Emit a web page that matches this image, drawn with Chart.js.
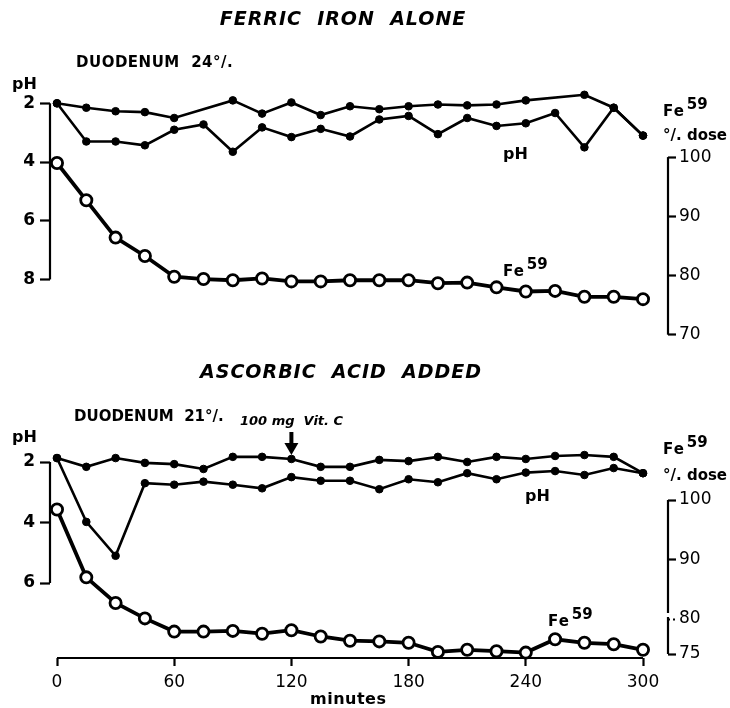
<!DOCTYPE html>
<html>
<head>
<meta charset="utf-8">
<script src="https://cdn.jsdelivr.net/npm/chart.js@4/dist/chart.umd.min.js"></script>
<style>
  html, body { margin: 0; padding: 0; background: #fff; }
  #wrap { position: relative; width: 730px; height: 708px; }
  #ferric { position: absolute; left: 0; top: 0; }
  #ascorbic { position: absolute; left: 0; top: 350px; }
</style>
</head>
<body>
<div id="wrap">
  <canvas id="ferric" width="730" height="350"></canvas>
  <canvas id="ascorbic" width="730" height="358"></canvas>
</div>
<script>
// Sampling times (minutes)
const minutes = [0, 15, 30, 45, 60, 75, 90, 105, 120, 135, 150, 165, 180, 195, 210, 225, 240, 255, 270, 285, 300];

// Ferric iron alone: duodenal pH (two recordings) and Fe59 remaining (% dose)
const ferricPhUpper = [2.0, 2.15, 2.27, 2.3, 2.5, null, 1.9, 2.35, 1.97, 2.4, 2.1, 2.2, 2.1, 2.04, 2.07, 2.04, 1.9, null, 1.71, 2.15, 3.1];
const ferricPhLower = [2.0, 3.3, 3.3, 3.43, 2.9, 2.72, 3.65, 2.82, 3.15, 2.87, 3.13, 2.55, 2.43, 3.05, 2.5, 2.77, 2.68, 2.33, 3.5, 2.15, 3.1];
const ferricFe59 = [99.0, 92.7, 86.4, 83.3, 79.8, 79.4, 79.2, 79.5, 79.0, 79.0, 79.2, 79.2, 79.2, 78.7, 78.8, 78.0, 77.3, 77.4, 76.4, 76.4, 76.0];

// Ascorbic acid added
const ascorbicPhUpper = [1.87, 2.16, 1.87, 2.03, 2.07, 2.23, 1.83, 1.83, 1.9, 2.16, 2.16, 1.93, 1.97, 1.83, 2.0, 1.83, 1.9, 1.8, 1.77, 1.83, 2.37];
const ascorbicPhLower = [1.87, 3.98, 5.1, 2.7, 2.75, 2.65, 2.75, 2.87, 2.5, 2.62, 2.62, 2.9, 2.57, 2.67, 2.37, 2.57, 2.35, 2.3, 2.43, 2.2, 2.37];
const ascorbicFe59 = [98.4, 87.0, 82.7, 80.1, 78.2, 78.2, 78.3, 77.9, 78.4, 77.5, 76.9, 76.8, 76.6, 75.3, 75.6, 75.4, 75.2, 77.1, 76.6, 76.4, 75.6];

// Tick labels
const minuteTicks = [0, 60, 120, 180, 240, 300];
const ferricPhTicks = [2, 4, 6, 8];
const ferricDoseTicks = [100, 90, 80, 70];
const ascorbicPhTicks = [2, 4, 6];
const ascorbicDoseTicks = [100, 90, 80, 75];
const vitCTime = 120;

const FONT = '"DejaVu Sans", "Liberation Sans", sans-serif';

// Linear scale whose lower part (below breakAt) is stretched, for a broken axis
class BrokenLinearScale extends Chart.LinearScale {
  static id = 'brokenLinear';
  static defaults = Chart.LinearScale.defaults;
  virt(v) {
    const b = this.options.breakAt, k = this.options.belowStretch;
    return (v != null && v < b) ? b - (b - v) * k : v;
  }
  getPixelForValue(v) { return super.getPixelForValue(this.virt(v)); }
}
Chart.register(BrokenLinearScale);

// Range of a scale so that two values land on two given pixel rows
function span(v1, p1, v2, p2, top, bottom) {
  const ppu = (p2 - p1) / (v2 - v1);
  const a = v1 + (top - p1) / ppu, b = v1 + (bottom - p1) / ppu;
  return { min: Math.min(a, b), max: Math.max(a, b) };
}

const pts = arr => minutes.map((m, i) => ({ x: m, y: arr[i] }));

function phSet(arr, gaps) {
  return {
    data: pts(arr), yAxisID: 'ph', borderColor: '#000', borderWidth: 2.6,
    pointRadius: 3.8, pointBackgroundColor: '#000', pointBorderColor: '#000',
    pointBorderWidth: 1, spanGaps: gaps, clip: false, tension: 0
  };
}
function feSet(arr) {
  return {
    data: pts(arr), yAxisID: 'fe', borderColor: '#000', borderWidth: 3.8,
    pointRadius: 5.6, pointBackgroundColor: '#fff', pointBorderColor: '#000',
    pointBorderWidth: 2.8, clip: false, tension: 0
  };
}

function txt(ctx, s, x, y, font, align, spacing) {
  ctx.save();
  ctx.font = font; ctx.textAlign = align || 'left'; ctx.textBaseline = 'middle';
  ctx.letterSpacing = spacing || '0px';
  ctx.fillStyle = '#000'; ctx.fillText(s, x, y);
  const w = ctx.measureText(s).width;
  ctx.restore();
  return w;
}
function feLabel(ctx, x, y) {
  const w = txt(ctx, 'Fe', x, y, 'bold 15px ' + FONT, 'left', '1px');
  txt(ctx, '59', x + w + 2, y - 7, 'bold 15px ' + FONT);
}

// Axis brackets: a line running only between the first and last tick
function bracket(ctx, chart, id, side, gapAt) {
  const s = chart.scales[id], ca = chart.chartArea;
  const ys = s.ticks.map(t => s.getPixelForValue(t.value));
  const x = side === 'left' ? ca.left : ca.right;
  const top = Math.min(...ys), bot = Math.max(...ys);
  ctx.save(); ctx.strokeStyle = '#000'; ctx.lineWidth = 2.2; ctx.beginPath();
  if (gapAt != null) {
    const g = s.getPixelForValue(gapAt);
    ctx.moveTo(x, top); ctx.lineTo(x, g - 6);
    ctx.moveTo(x, g - 2); ctx.lineTo(x, bot);
  } else {
    ctx.moveTo(x, top); ctx.lineTo(x, bot);
  }
  ctx.stroke(); ctx.restore();
}
function xBracket(ctx, chart) {
  const s = chart.scales.x, y = chart.chartArea.bottom;
  ctx.save(); ctx.strokeStyle = '#000'; ctx.lineWidth = 2.2; ctx.beginPath();
  ctx.moveTo(s.getPixelForValue(minuteTicks[0]), y);
  ctx.lineTo(s.getPixelForValue(minuteTicks[minuteTicks.length - 1]), y);
  ctx.stroke(); ctx.restore();
}

const tickFontBold = { family: FONT, size: 17, weight: 'bold' };
const tickFont = { family: FONT, size: 17, weight: 'normal' };

function yScales(phRange, phTicks, feRange, feTicks, feType, feGridExtra) {
  return {
    ph: {
      type: 'linear', position: 'left', reverse: true, min: phRange.min, max: phRange.max,
      afterBuildTicks: s => { s.ticks = phTicks.map(v => ({ value: v })); },
      afterFit: s => { s.width = 50; s.paddingTop = 0; s.paddingBottom = 0; },
      border: { display: false },
      grid: { drawOnChartArea: false, drawTicks: true, tickLength: 10, tickColor: '#000', tickWidth: 2.2 },
      ticks: { color: '#000', font: tickFontBold, padding: 5, autoSkip: false }
    },
    fe: Object.assign({
      type: feType || 'linear', position: 'right', min: feRange.min, max: feRange.max,
      afterBuildTicks: s => { s.ticks = feTicks.map(v => ({ value: v })); },
      afterFit: s => { s.width = 62; s.paddingTop = 0; s.paddingBottom = 0; },
      border: { display: false },
      grid: Object.assign({ drawOnChartArea: false, drawTicks: true, tickLength: 8, tickColor: '#000', tickWidth: 2.2 }, feGridExtra || {}),
      ticks: { color: '#000', font: tickFont, padding: 3, autoSkip: false }
    })
  };
}

const xRange = span(0, 57, 300, 643, 50, 668);
function xScale(show) {
  return {
    type: 'linear', min: xRange.min, max: xRange.max, display: show,
    afterBuildTicks: s => { s.ticks = minuteTicks.map(v => ({ value: v })); },
    afterFit: s => { if (show) { s.height = 50; } s.paddingLeft = 0; s.paddingRight = 0; },
    border: { display: false },
    grid: { drawOnChartArea: false, drawTicks: true, tickLength: 8, tickColor: '#000', tickWidth: 2.2 },
    ticks: { color: '#000', font: { family: FONT, size: 17, weight: 'normal' }, padding: 6, autoSkip: false, maxRotation: 0 }
  };
}

const common = {
  responsive: false, animation: false, devicePixelRatio: 1, events: [],
  plugins: { legend: { display: false }, tooltip: { enabled: false } }
};

// ---- Ferric iron alone (chart area rows 90..345)
new Chart(document.getElementById('ferric'), {
  type: 'line',
  data: { datasets: [phSet(ferricPhUpper, true), phSet(ferricPhLower, false), feSet(ferricFe59)] },
  options: Object.assign({}, common, {
    layout: { padding: { top: 90, bottom: 5, left: 0, right: 0 } },
    scales: Object.assign({ x: xScale(false) },
      yScales(span(2, 103.5, 8, 282, 90, 345), ferricPhTicks, span(100, 158, 70, 338, 90, 345), ferricDoseTicks))
  }),
  plugins: [{
    id: 'ferricArt',
    afterDraw(chart) {
      const ctx = chart.ctx;
      bracket(ctx, chart, 'ph', 'left');
      bracket(ctx, chart, 'fe', 'right');
      txt(ctx, 'FERRIC  IRON  ALONE', 343, 20, 'italic bold 19px ' + FONT, 'center', '1px');
      txt(ctx, 'DUODENUM  24°/.', 76, 63, 'bold 15px ' + FONT, 'left', '0.5px');
      txt(ctx, 'pH', 12, 85, 'bold 16px ' + FONT);
      feLabel(ctx, 663, 112);
      txt(ctx, '°/. dose', 663, 136, 'bold 15px ' + FONT);
      txt(ctx, 'pH', 503, 155, 'bold 16px ' + FONT);
      feLabel(ctx, 503, 272);
    }
  }]
});

// ---- Ascorbic acid added (chart area rows 80..308 of this canvas)
new Chart(document.getElementById('ascorbic'), {
  type: 'line',
  data: { datasets: [phSet(ascorbicPhUpper, true), phSet(ascorbicPhLower, false), feSet(ascorbicFe59)] },
  options: Object.assign({}, common, {
    layout: { padding: { top: 80, bottom: 0, left: 0, right: 0 } },
    scales: Object.assign({ x: xScale(true) },
      yScales(span(2, 112, 6, 233, 80, 308), ascorbicPhTicks,
        span(100, 150, 80, 269, 80, 308), ascorbicDoseTicks, 'brokenLinear',
        { tickBorderDash: c => (c.tick && c.tick.value === 80) ? [2, 3] : [] }))
  }),
  plugins: [{
    id: 'ascorbicArt',
    beforeInit(chart) {
      // 75..80 band of the dose axis is drawn stretched
      chart.options.scales.fe.breakAt = 80;
      chart.options.scales.fe.belowStretch = 7 / 5.95;
    },
    afterDraw(chart) {
      const ctx = chart.ctx;
      bracket(ctx, chart, 'ph', 'left');
      bracket(ctx, chart, 'fe', 'right', 80);
      xBracket(ctx, chart);
      txt(ctx, 'ASCORBIC  ACID  ADDED', 341, 23, 'italic bold 19px ' + FONT, 'center', '1px');
      txt(ctx, 'DUODENUM  21°/.', 74, 67, 'bold 15px ' + FONT, 'left', '0px');
      txt(ctx, '100 mg  Vit. C', 240, 72, 'italic bold 13px ' + FONT);
      txt(ctx, 'pH', 12, 88, 'bold 16px ' + FONT);
      feLabel(ctx, 663, 100);
      txt(ctx, '°/. dose', 663, 126, 'bold 15px ' + FONT);
      txt(ctx, 'pH', 525, 147, 'bold 16px ' + FONT);
      feLabel(ctx, 548, 272);
      txt(ctx, 'minutes', 310, 350, 'bold 16px ' + FONT, 'left', '0.5px');
      // arrow marking the vitamin C dose
      const ax = chart.scales.x.getPixelForValue(vitCTime);
      ctx.save(); ctx.fillStyle = '#000'; ctx.strokeStyle = '#000';
      ctx.lineWidth = 4; ctx.beginPath(); ctx.moveTo(ax, 82); ctx.lineTo(ax, 94); ctx.stroke();
      ctx.beginPath(); ctx.moveTo(ax - 7, 93); ctx.lineTo(ax + 7, 93); ctx.lineTo(ax, 105); ctx.closePath(); ctx.fill();
      ctx.restore();
    }
  }]
});
</script>
</body>
</html>
